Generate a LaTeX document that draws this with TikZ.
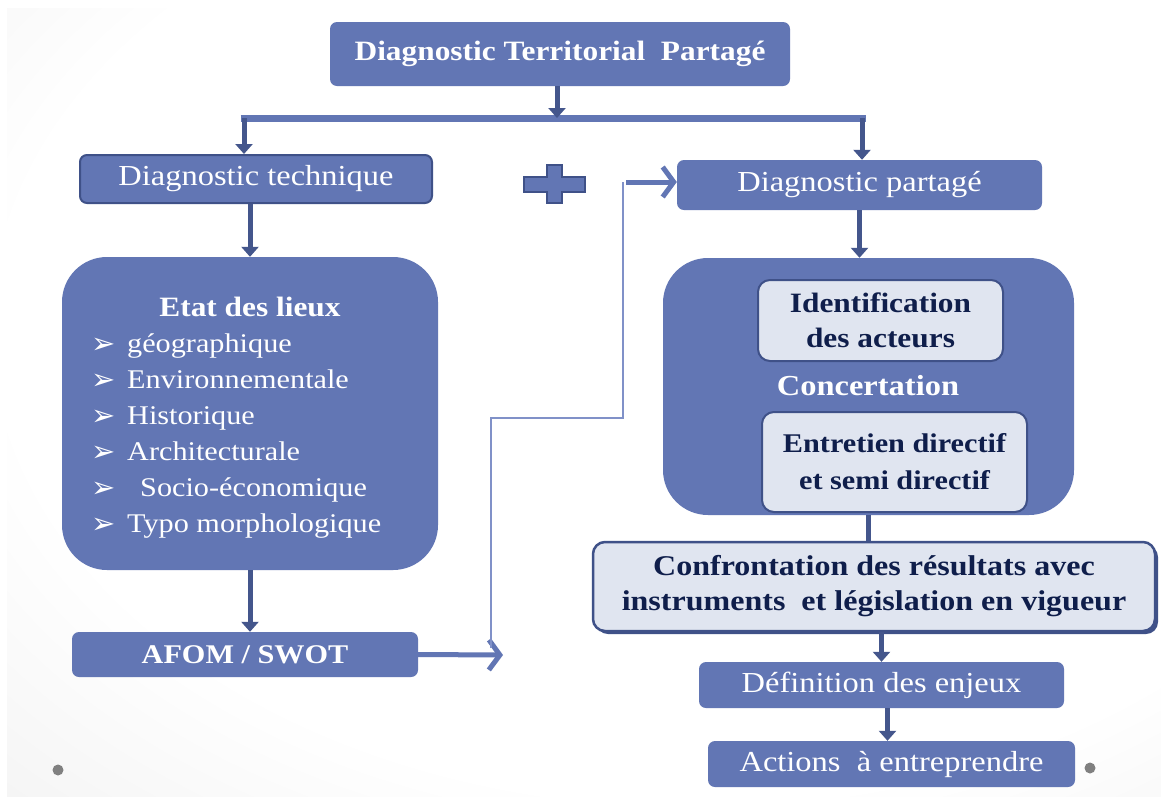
\documentclass[tikz,border=0pt]{standalone}
\usepackage{fontspec}
\setmainfont[FakeStretch=1.12]{Liberation Serif}
\newfontfamily\dejavu{DejaVu Sans}
\usetikzlibrary{arrows.meta,shadows}
\definecolor{boxblue}{HTML}{6276B4}
\definecolor{edgeblue}{HTML}{3F5188}
\definecolor{arrowblue}{HTML}{44568C}
\definecolor{lightfill}{HTML}{E0E5F0}
\definecolor{navytext}{HTML}{0F1E4B}
\definecolor{thinblue}{HTML}{8091C8}
\definecolor{dotgray}{HTML}{808080}
\pgfdeclareradialshading{slidebg}{\pgfpoint{8bp}{8bp}}{color(0bp)=(white); color(30bp)=(white); color(76bp)=(black!17)}
\newcommand\fsz[2]{\fontsize{#1}{#2}\selectfont}
\begin{document}
\begin{tikzpicture}[x=1pt,y=-1pt,
  bluebox/.style={fill=boxblue, rounded corners=7pt, inner sep=0pt, text=white, align=center},
  lightbox/.style={fill=lightfill, draw=edgeblue, line width=2pt, rounded corners=12pt, inner sep=0pt, text=navytext, align=center},
  darr/.style={draw=arrowblue, line width=5pt, -{Triangle[width=17pt,length=10pt]}},
  plainline/.style={draw=arrowblue, line width=5pt},
  barline/.style={draw=boxblue, line width=7pt},
  chev/.style={draw=boxblue, line width=5pt, -{Straight Barb[length=11pt,width=30pt]}},
  thinline/.style={draw=thinblue, line width=1.6pt},
  plusst/.style={fill=boxblue, draw=edgeblue, line width=1.5pt},
  whitetext/.style={text=white, inner sep=0pt}
]
\useasboundingbox (0,0) rectangle (1161,796);
\fill[white] (0,0) rectangle (1161,796);
\shade[shading=slidebg] (7,8) rectangle (1161,796);

% boxes
\node[bluebox, minimum width=460pt, minimum height=64pt, font=\bfseries\fsz{28}{34}] (top) at (560,54) {Diagnostic Territorial\ \ Partagé};
\node[bluebox, draw=edgeblue, line width=2pt, minimum width=352pt, minimum height=48pt, font=\fsz{29}{34}] (tech) at (256,179) {\raisebox{-2pt}{Diagnostic technique}};
\node[bluebox, minimum width=365pt, minimum height=50pt, font=\fsz{29}{34}] (part) at (859.5,185) {\raisebox{-2pt}{Diagnostic partagé}};

\node[bluebox, rounded corners=45pt, minimum width=376pt, minimum height=313pt] (etat) at (250,413.5) {};
\node[whitetext, anchor=base, font=\bfseries\fsz{28}{34}] (etattitle) at (250,316) {Etat des lieux};
\foreach \t [count=\i] in {géographique, Environnementale, Historique, Architecturale, \hspace{13pt}Socio-économique, Typo morphologique}
  \node[whitetext, anchor=base west, font=\fsz{27}{32}] (item\i) at (91,316+36*\i) {\makebox[36pt][l]{\raisebox{-1pt}{\dejavu\fsz{29}{30}➢}}\t};

\node[bluebox, minimum width=346pt, minimum height=45pt, font=\bfseries\fsz{27}{32}] (afom) at (245,654.5) {\raisebox{-2pt}{AFOM / SWOT}};

\node[bluebox, rounded corners=45pt, minimum width=411pt, minimum height=257pt] (conc) at (868.5,386.5) {};
\node[whitetext, font=\bfseries\fsz{29}{34}] (concl) at (868,386) {Concertation};
\node[lightbox, minimum width=245pt, minimum height=81pt, font=\bfseries\fsz{28}{35}] (ident) at (880.5,320.5) {Identification\\des acteurs};
\node[lightbox, minimum width=265pt, minimum height=100pt, font=\bfseries\fsz{27}{37}] (entr) at (894.5,462) {Entretien directif\\et semi directif};

\node[lightbox, line width=2.5pt, drop shadow={shadow xshift=3pt, shadow yshift=-3pt, fill=edgeblue, opacity=1}, minimum width=562pt, minimum height=89pt, font=\bfseries\fsz{28.6}{35}] (confr) at (874,586.5) {Confrontation des résultats avec\\instruments\ \ et législation en vigueur};

\node[bluebox, minimum width=365pt, minimum height=46pt, font=\fsz{29}{34}] (defin) at (881.5,685) {\raisebox{-2pt}{Définition des enjeux}};
\node[bluebox, minimum width=367pt, minimum height=46pt, font=\fsz{29}{34}] (actions) at (891.5,764) {\raisebox{-2pt}{Actions\ \ à entreprendre}};

% plus sign
\draw[plusst] (547,165) -- (562,165) -- (562,177) -- (585,177) -- (585,192) -- (562,192) -- (562,203) -- (547,203) -- (547,192) -- (524,192) -- (524,177) -- (547,177) -- cycle;

% dots
\fill[dotgray] (58,770) circle (5.5pt);
\fill[dotgray] (1090,768) circle (5.5pt);

% connectors
\coordinate (barM) at (557,118);
\coordinate (barL) at (244,118);
\coordinate (barR) at (862,118);
\draw[barline] ([xshift=-3.5pt]barL) -- ([xshift=3.5pt]barR);
\draw[darr] (top.south -| barM) -- (barM);
\draw[darr] (barL) -- (barL |- tech.north);
\draw[darr] (barR) -- (barR |- part.north);
\draw[darr] (tech.south -| etat) -- (etat.north);
\draw[darr] (etat.south) -- (afom.north -| etat);
\draw[darr] (part.south) -- (part.south |- conc.north);
\draw[plainline] (conc.south) -- (conc.south |- confr.north);
\draw[darr] (confr.south -| defin) -- (defin.north);
\draw[darr] ([xshift=6pt]defin.south) -- ([xshift=6pt]defin.south |- actions.north);

\coordinate (chevA) at (503,655);
\draw[chev] (afom.east) -- (chevA);
\coordinate (t1) at (491,648);
\coordinate (t2) at (491,418);
\coordinate (t3) at (623,418);
\coordinate (t4) at (623,182);
\draw[thinline] (t1) -- (t2) -- (t3) -- (t4);
\draw[chev] ([xshift=3pt]t4) -- (part.west |- t4);
\end{tikzpicture}
\end{document}
